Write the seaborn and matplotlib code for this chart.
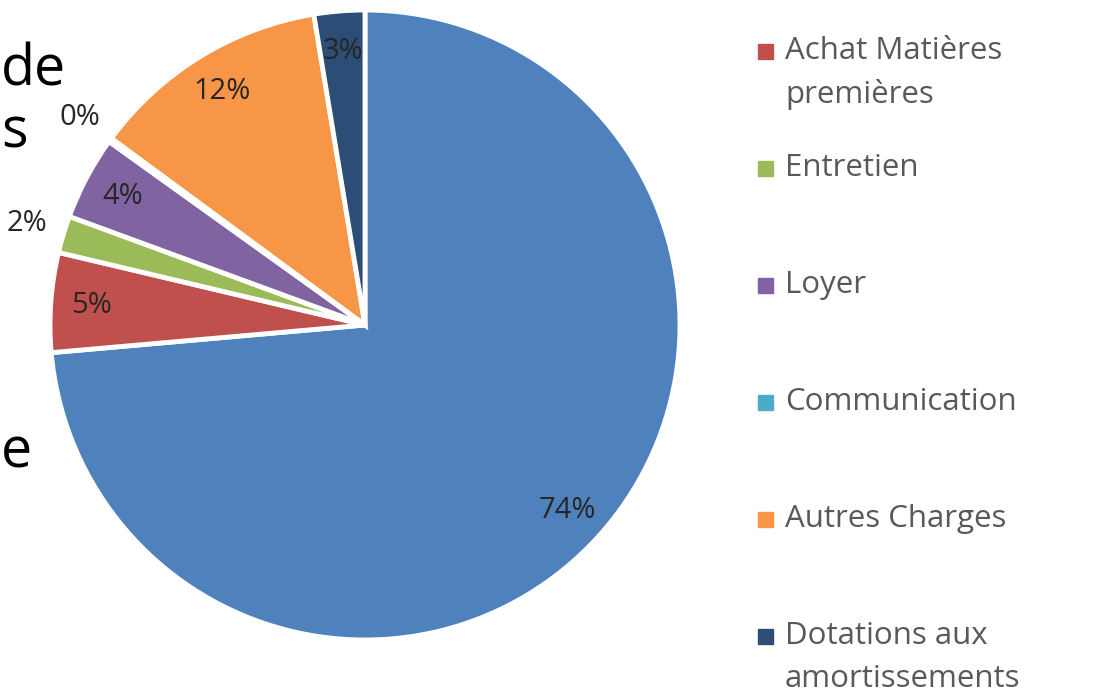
import matplotlib
matplotlib.use('Agg')
import numpy as np
import matplotlib.pyplot as plt
import seaborn as sns
from matplotlib.patches import Rectangle

# Data (first slice's legend entry is outside the visible crop)
categories = ['Salaires', 'Achat Matières premières', 'Entretien', 'Loyer',
              'Communication', 'Autres Charges', 'Dotations aux amortissements']
values = [73.6, 5.1, 1.9, 4.3, 0.2, 12.3, 2.6]
colors = ['#4F81BD', '#C0504D', '#9BBB59', '#8064A2', '#4BACC6', '#F79646', '#2C4D75']
legend_labels = ['Achat Matières\npremières', 'Entretien', 'Loyer', 'Communication',
                 'Autres Charges', 'Dotations aux\namortissements']
side_text = ['de', 's', 'e']

sns.set_theme(style='white')
plt.rcParams['font.family'] = ['Open Sans', 'DejaVu Sans']
palette = sns.color_palette(colors)

fig = plt.figure(figsize=(11.02, 6.93), dpi=100)
R = 315
cx, cy = 365, 325
ax = fig.add_axes([(cx - R) / 1102, (693 - cy - R) / 693, 2 * R / 1102, 2 * R / 693])

wedges, texts, autotexts = ax.pie(
    values, colors=palette, startangle=90, counterclock=False,
    autopct='%.0f%%', pctdistance=0.87,
    wedgeprops=dict(edgecolor='white', linewidth=3.5),
    textprops=dict(fontsize=21, color='#262626'))
ax.set_xlim(-1, 1)
ax.set_ylim(-1, 1)
ax.set_aspect('equal')
ax.axis('off')

# small slices: put the label outside the pie
for w, t, v in zip(wedges, autotexts, values):
    if v < 2.5:
        ang = np.deg2rad((w.theta1 + w.theta2) / 2)
        t.set_position((1.12 * np.cos(ang), 1.12 * np.sin(ang)))
        t.set_clip_on(False)

# legend drawn by hand so markers line up with the first text line
top = 693 - 44
step = 117
for i, (lab, col) in enumerate(zip(legend_labels, colors[1:])):
    y = top - i * step
    fig.patches.append(Rectangle((758 / 1102, (y - 15) / 693), 15 / 1102, 15 / 693,
                                 transform=fig.transFigure, color=col, figure=fig))
    fig.text(785 / 1102, (y + 8) / 693, lab, fontsize=22.5, color='#595959',
             va='top', ha='left', linespacing=1.55)

# bits of slide text cut off at the left edge
for s, yy in zip(side_text, [85, 148, 468]):
    fig.text(1 / 1102, (693 - yy) / 693, s, fontsize=40, color='black',
             ha='left', va='baseline')

fig.savefig('out.png', dpi=100)
